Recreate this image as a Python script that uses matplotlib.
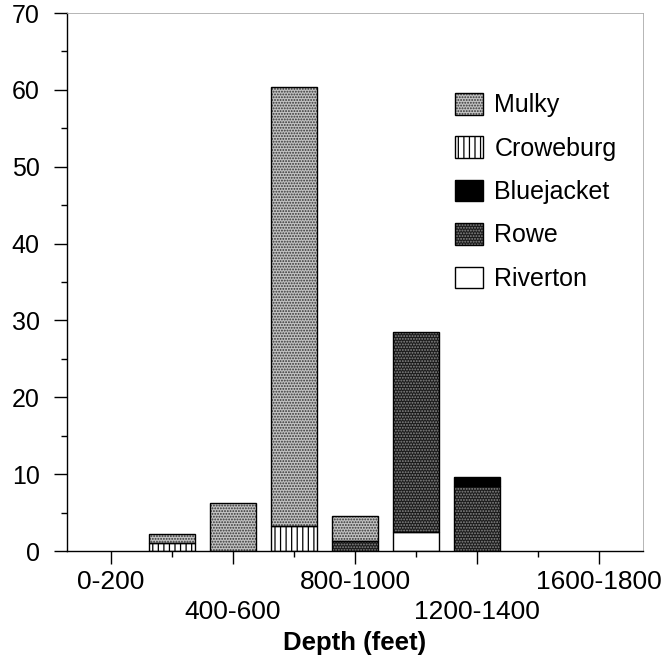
import numpy as np
import matplotlib.pyplot as plt
from matplotlib.patches import Patch
from matplotlib.legend_handler import HandlerTuple

plt.rcParams['font.family'] = ['Liberation Sans', 'DejaVu Sans']
plt.rcParams['hatch.linewidth'] = 0.9

# depth bins (feet) and coal-bed counts per formation
depth_bins = ['0-200', '200-400', '400-600', '600-800', '800-1000',
              '1000-1200', '1200-1400', '1400-1600', '1600-1800']
riverton   = [0, 0,   0,   0,    0,   2.5,  0,   0, 0]
rowe       = [0, 0,   0,   0,    1.3, 26.0, 8.4, 0, 0]
bluejacket = [0, 0,   0,   0,    0,   0,    1.2, 0, 0]
croweburg  = [0, 1.1, 0,   3.3,  0,   0,    0,   0, 0]
mulky      = [0, 1.1, 6.2, 57.1, 3.2, 0,    0,   0, 0]

# stacked bottom -> top
series = [
    ('Riverton',   riverton,   dict(face='white',   hatch=None,     hc='black')),
    ('Rowe',       rowe,       dict(face='#1c1c1c', hatch='......', hc='#8a8a8a')),
    ('Bluejacket', bluejacket, dict(face='black',   hatch=None,     hc='black')),
    ('Croweburg',  croweburg,  dict(face='white',   hatch='|||',    hc='black')),
    ('Mulky',      mulky,      dict(face='#c2c2c2', hatch='......', hc='#333333')),
]

fig = plt.figure(figsize=(6.63, 6.61), dpi=100)
ax = fig.add_axes([0.1006, 0.1664, 0.8694, 0.8139])

x = np.arange(len(depth_bins))
width = 0.75
bottom = np.zeros(len(depth_bins))
handles = {}
for name, vals, st in series:
    vals = np.asarray(vals, dtype=float)
    keep = vals > 0
    # textured fill, then a black outline on top
    ax.bar(x[keep], vals[keep], width, bottom=bottom[keep], color=st['face'],
           edgecolor=st['hc'], hatch=st['hatch'], linewidth=0, zorder=2)
    ax.bar(x[keep], vals[keep], width, bottom=bottom[keep], fill=False,
           edgecolor='black', linewidth=1.0, zorder=3)
    handles[name] = (Patch(facecolor=st['face'], edgecolor=st['hc'],
                           hatch=st['hatch'], linewidth=0),
                     Patch(fill=False, edgecolor='black', linewidth=1.0))
    bottom += vals

ax.set_xlim(-0.725, 8.72)
ax.set_ylim(0, 70)

# y axis
ax.set_yticks(np.arange(0, 71, 10))
ax.set_yticks(np.arange(5, 70, 10), minor=True)
ax.tick_params(axis='y', which='major', direction='out', length=9.5,
               width=1, labelsize=18, pad=10)
ax.tick_params(axis='y', which='minor', direction='out', length=4, width=1)

# x axis: every other bin labelled, staggered on two rows
major_idx = x[::2]
labels = [depth_bins[i] if k % 2 == 0 else '\n' + depth_bins[i]
          for k, i in enumerate(major_idx)]
ax.set_xticks(major_idx)
ax.set_xticklabels(labels, linespacing=1.32)
ax.set_xticks(x[1::2], minor=True)
ax.tick_params(axis='x', which='major', direction='out', length=9.5,
               width=1, labelsize=19, pad=4)
ax.tick_params(axis='x', which='minor', direction='out', length=4, width=1)
ax.set_xlabel('Depth (feet)', fontsize=18.5, fontweight='bold', labelpad=5)

for sp in ax.spines.values():
    sp.set_linewidth(1.0)
for sp in ('top', 'right'):
    ax.spines[sp].set_linewidth(0.6)
    ax.spines[sp].set_color('#aaaaaa')

order = ['Mulky', 'Croweburg', 'Bluejacket', 'Rowe', 'Riverton']
ax.legend([handles[n] for n in order], order,
          handler_map={tuple: HandlerTuple(ndivide=1, pad=0)},
          loc='upper left', bbox_to_anchor=(455 / 663, 1 - 93 / 661),
          bbox_transform=fig.transFigure, frameon=False, fontsize=18,
          handlelength=1.12, handleheight=0.95, handletextpad=0.45,
          labelspacing=0.76, borderpad=0, borderaxespad=0)

fig.savefig('out.png', dpi=100)
